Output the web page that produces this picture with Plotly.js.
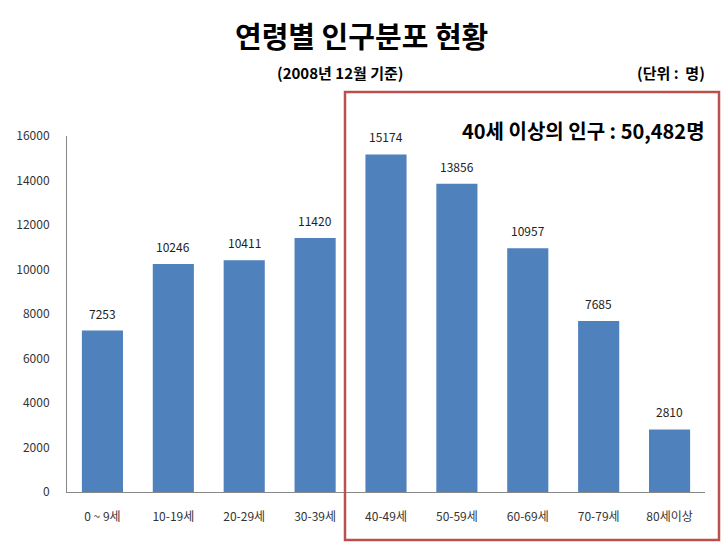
<!DOCTYPE html>
<html><head><meta charset="utf-8">
<script src="https://cdn.plot.ly/plotly-3.0.1.min.js"></script>
<style>html,body{margin:0;padding:0;background:#fff}#c{width:722px;height:545px}</style>
</head><body><div id="c"></div>
<script>
const categories = ['0 ~ 9세','10-19세','20-29세','30-39세','40-49세','50-59세','60-69세','70-79세','80세이상'];
const population = [7253, 10246, 10411, 11420, 15174, 13856, 10957, 7685, 2810];
const yTicks = [0,2000,4000,6000,8000,10000,12000,14000,16000];
const titleText = '연령별 인구분포 현황';
const subtitleText = '(2008년 12월 기준)';
const unitText = '(단위 :  명)';
const noteText = '40세 이상의 인구 : 50,482명';

const font = 'Noto Sans CJK KR, Malgun Gothic, sans-serif';
const W = 722, H = 545;
const m = {l:67, r:17, t:136, b:53};
const px = x => (x - m.l) / (W - m.l - m.r);
const py = y => (H - m.b - y) / (H - m.t - m.b);

const valueLabels = categories.map((c,i)=>({
  x:c, y:population[i], xref:'x', yref:'y', text:String(population[i]),
  showarrow:false, yanchor:'bottom', yshift:7,
  font:{family:font, size:12, color:'#222'}
}));

const layout = {
  width:W, height:H, margin:m,
  paper_bgcolor:'#fff', plot_bgcolor:'#fff',
  showlegend:false, bargap:0.42,
  font:{family:font},
  xaxis:{type:'category', showline:true, linecolor:'#888', linewidth:1, showgrid:false, zeroline:false,
    ticks:'', ticklabelstandoff:14, tickfont:{family:font, size:12, color:'#333'}},
  yaxis:{range:[0,16000], tickvals:yTicks, ticktext:yTicks.map(String), showline:true, linecolor:'#888', linewidth:1, showgrid:false, zeroline:false,
    ticks:'', ticklabelstandoff:14, tickfont:{family:font, size:12, color:'#333'}},
  shapes:[{type:'rect', xref:'paper', yref:'paper', x0:px(345), x1:px(719), y0:py(540), y1:py(92),
    line:{color:'#b9504d', width:2.5}, fillcolor:'rgba(0,0,0,0)'}],
  annotations:[
    {xref:'paper', yref:'paper', x:px(361), y:py(35), text:'<b>'+titleText+'</b>', showarrow:false,
     xanchor:'center', yanchor:'middle', font:{family:font, size:29, color:'#000'}},
    {xref:'paper', yref:'paper', x:px(340), y:py(72), text:'<b>'+subtitleText+'</b>', showarrow:false,
     xanchor:'center', yanchor:'middle', font:{family:font, size:15, color:'#000'}},
    {xref:'paper', yref:'paper', x:px(707), y:py(72), text:'<b>'+unitText+'</b>', showarrow:false,
     xanchor:'right', yanchor:'middle', font:{family:font, size:15, color:'#000'}},
    {xref:'paper', yref:'paper', x:px(707), y:py(131), text:'<b>'+noteText+'</b>', showarrow:false,
     xanchor:'right', yanchor:'middle', font:{family:font, size:20, color:'#000'}},
    ...valueLabels
  ]
};

Plotly.newPlot('c', [{type:'bar', x:categories, y:population, marker:{color:'#4f81bd'}, hoverinfo:'skip'}], layout, {staticPlot:true});
</script></body></html>
